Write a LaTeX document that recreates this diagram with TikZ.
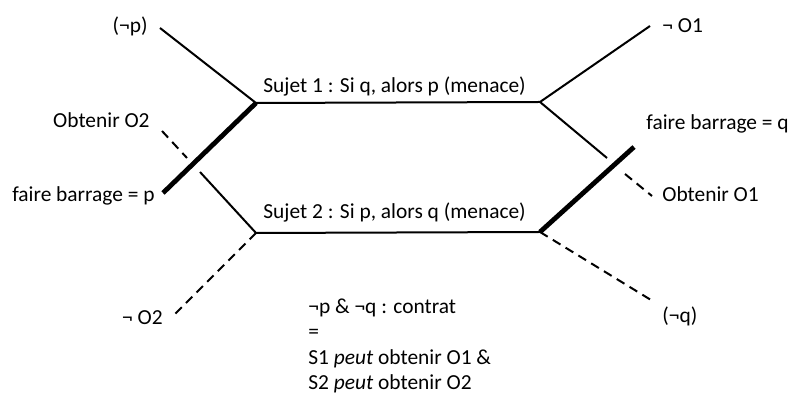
\documentclass[tikz,border=0pt]{standalone}
\usepackage{fontspec}
\setmainfont{Carlito}
\begin{document}
\begin{tikzpicture}[x=0.5pt,y=-0.5pt,font=\fontsize{10.7}{12.5}\selectfont,
    trait/.style={line width=1pt},
    barrage/.style={line width=2.4pt},
    pointille/.style={line width=1pt, dash pattern=on 4.5pt off 3pt},
    lbl/.style={inner sep=0pt}]
  \useasboundingbox (0,0) rectangle (792,394);

  % jonctions des deux sujets
  \coordinate (s1g) at (256,103);
  \coordinate (s1d) at (540,102);
  \coordinate (s2g) at (256,233);
  \coordinate (s2d) at (540,232);

  % bouts des branches
  \coordinate (np) at (160,28);
  \coordinate (no1) at (650,26);
  \coordinate (c1) at (607,158);
  \coordinate (fbp) at (163,193);
  \coordinate (fbq) at (634,147);
  \coordinate (oo2a) at (162,131);
  \coordinate (oo2b) at (187,158);
  \coordinate (c2) at (200,172);
  \coordinate (oo1a) at (625,174);
  \coordinate (oo1b) at (652,196);
  \coordinate (no2) at (172,317);
  \coordinate (nq) at (651,300);

  \draw[trait] (np) -- (s1g) -- (s1d) -- (no1);
  \draw[trait] (s1d) -- (c1);
  \draw[trait] (c2) -- (s2g) -- (s2d);
  \draw[barrage] (s1g) -- (fbp);
  \draw[barrage] (s2d) -- (fbq);
  \foreach \a/\b in {oo2a/oo2b, s2g/no2, oo1a/oo1b, s2d/nq}
    \draw[pointille] (\a) -- (\b);

  % etiquettes
  \node[lbl, anchor=mid west] (sujet1) at (263,88) {Sujet 1 : Si q, alors p (menace)};
  \node[lbl, anchor=mid west] (sujet2) at (263,214) {Sujet 2 : Si p, alors q (menace)};
  \node[lbl, anchor=mid east] (lnp) at (148,28) {(¬p)};
  \node[lbl, anchor=mid west] (lno1) at (662,28) {¬ O1};
  \node[lbl, anchor=mid east] (loo2) at (150,123) {Obtenir O2};
  \node[lbl, anchor=mid east] (lfbp) at (155,197) {faire barrage = p};
  \node[lbl, anchor=mid west] (lfbq) at (646,125) {faire barrage = q};
  \node[lbl, anchor=mid west] (loo1) at (662,197) {Obtenir O1};
  \node[lbl, anchor=mid east] (lno2) at (163,320) {¬ O2};
  \node[lbl, anchor=mid west] (lnq) at (662,318) {(¬q)};
  \node[lbl, anchor=north west, align=left, font=\fontsize{10.7}{12.8}\selectfont]
    (contrat) at (308,298)
    {¬p \& ¬q : contrat\\=\\S1 \textit{peut} obtenir O1 \&\\S2 \textit{peut} obtenir O2};
\end{tikzpicture}
\end{document}
